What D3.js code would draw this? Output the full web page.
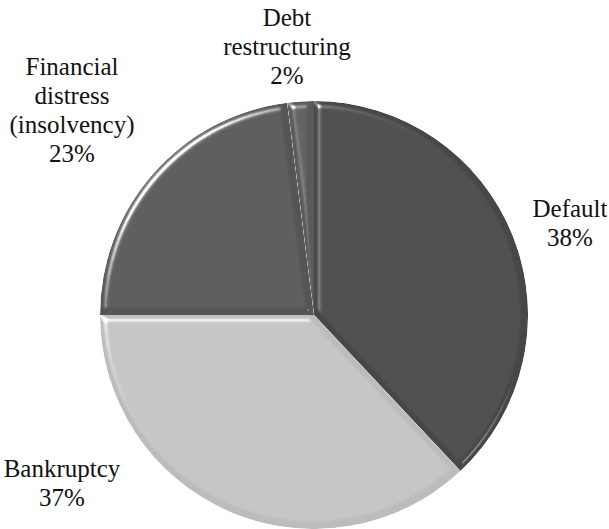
<!DOCTYPE html>
<html>
<head>
<meta charset="utf-8">
<script src="https://cdn.jsdelivr.net/npm/d3@7"></script>
<style>
  html, body { margin: 0; padding: 0; background: #fff; }
  #wrap { position: relative; width: 609px; height: 529px; overflow: hidden; }
  #wrap svg { position: absolute; left: 0; top: 0; display: block; }
  .lbl { position: absolute; white-space: nowrap; text-align: center; transform: translateX(-50%);
         font-family: "Liberation Serif", "Times New Roman", serif; font-size: 25px; line-height: 29px; color: #111; }
</style>
</head>
<body>
<div id="wrap"><svg id="fig" width="609" height="529"></svg></div>
<script>
// Reasons for credit events, share of cases (%)
const categories = ["Default", "Bankruptcy", "Financial distress (insolvency)", "Debt restructuring"];
const values = [38, 37, 23, 2];
const labelLines = [
  ["Default", "38%"],
  ["Bankruptcy", "37%"],
  ["Financial", "distress", "(insolvency)", "23%"],
  ["Debt", "restructuring", "2%"]
];
const colors = ["#474747", "#bcbcbc", "#555555", "#5a5a5a"];

const width = 609, height = 529;
const cx = 314, cy = 315, radius = 214;

const svg = d3.select("#fig");

// Bevel: highlight from the upper left, shade toward the lower right
const defs = svg.append("defs");
const f = defs.append("filter").attr("id", "bevel")
  .attr("color-interpolation-filters", "sRGB")
  .attr("x", "-5%").attr("y", "-5%").attr("width", "110%").attr("height", "110%");
f.append("feGaussianBlur").attr("in", "SourceAlpha").attr("stdDeviation", 3).attr("result", "blur");

const hi = f.append("feSpecularLighting").attr("in", "blur")
  .attr("surfaceScale", 5).attr("specularConstant", 1).attr("specularExponent", 26)
  .attr("lighting-color", "#ffffff").attr("result", "hi");
hi.append("feDistantLight").attr("azimuth", 225).attr("elevation", 35);

const lo = f.append("feSpecularLighting").attr("in", "blur")
  .attr("surfaceScale", 5).attr("specularConstant", 0.9).attr("specularExponent", 26)
  .attr("lighting-color", "#ffffff").attr("result", "lo");
lo.append("feDistantLight").attr("azimuth", 45).attr("elevation", 35);

f.append("feComposite").attr("in", "SourceGraphic").attr("in2", "hi")
  .attr("operator", "arithmetic").attr("k1", 0).attr("k2", 1).attr("k3", 0.9).attr("k4", 0).attr("result", "a");
f.append("feComposite").attr("in", "a").attr("in2", "lo")
  .attr("operator", "arithmetic").attr("k1", 0).attr("k2", 1).attr("k3", -0.6).attr("k4", 0).attr("result", "b");
f.append("feComposite").attr("in", "b").attr("in2", "SourceAlpha").attr("operator", "in");

const pie = d3.pie().sort(null).value(d => d)(values);
const arc = d3.arc().innerRadius(0).outerRadius(radius);

const g = svg.append("g").attr("transform", `translate(${cx},${cy})`);

g.selectAll("path.slice")
  .data(pie)
  .join("path")
  .attr("class", "slice")
  .attr("d", arc)
  .attr("fill", (d, i) => colors[i])
  .attr("filter", "url(#bevel)");

// Slice labels as HTML blocks over the pie; top = first baseline - ~22px
const labelPos = [
  { x: 570, y: 215 },
  { x: 62, y: 475 },
  { x: 72, y: 73 },
  { x: 287, y: 24 }
];

d3.select("#wrap").selectAll("div.lbl")
  .data(labelLines)
  .join("div")
  .attr("class", "lbl")
  .style("left", (d, i) => labelPos[i].x + "px")
  .style("top", (d, i) => (labelPos[i].y - 21) + "px")
  .html(d => d.join("<br>"));
</script>
</body>
</html>
